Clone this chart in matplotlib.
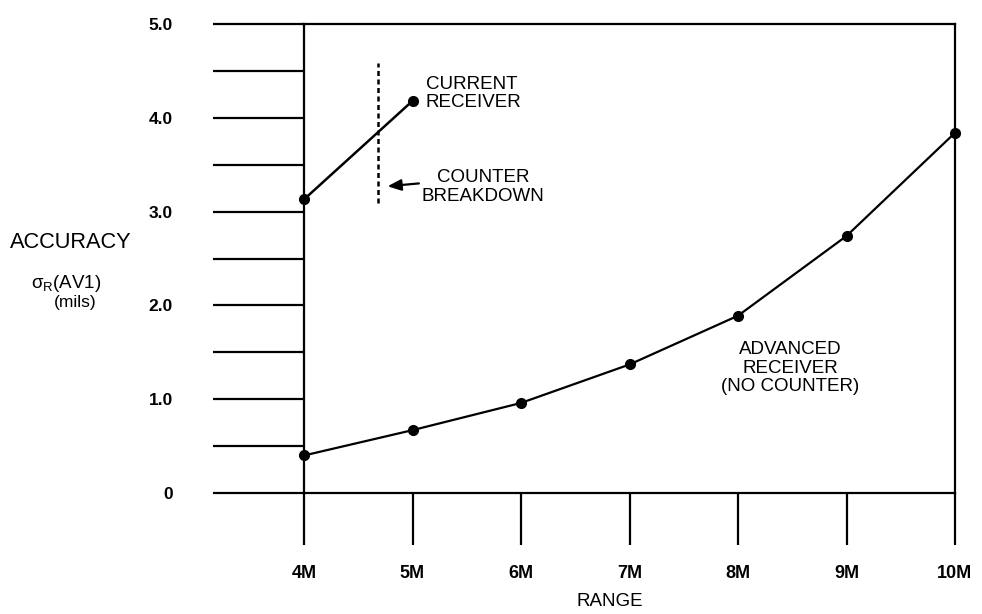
import matplotlib
matplotlib.use("Agg")
import matplotlib.pyplot as plt
from matplotlib.ticker import MultipleLocator

plt.rcParams['font.family'] = ['Liberation Sans', 'DejaVu Sans']
plt.rcParams['mathtext.fontset'] = 'custom'
plt.rcParams['mathtext.rm'] = 'Liberation Sans'
plt.rcParams['mathtext.it'] = 'Liberation Sans:italic'

# Data
range_pos = [4, 5, 6, 7, 8, 9, 10]
range_labels = ['4M', '5M', '6M', '7M', '8M', '9M', '10M']
adv_x = [4, 5, 6, 7, 8, 9, 10]
adv_y = [0.40, 0.67, 0.96, 1.37, 1.89, 2.74, 3.84]
cur_x = [4, 5]
cur_y = [3.13, 4.18]
breakdown_x = 4.68
breakdown_y = [3.09, 4.58]
y_major = [0, 1, 2, 3, 4, 5]
y_labels = ['0', '1.0', '2.0', '3.0', '4.0', '5.0']

W, H = 982, 614
fig = plt.figure(figsize=(W / 100, H / 100), dpi=100)
ax = fig.add_axes([304 / W, (H - 493) / H, 651 / W, 469 / H])
ax.set_xlim(4, 10)
ax.set_ylim(0, 5)

for s in ax.spines.values():
    s.set_linewidth(1.6)

ax.set_xticks(range_pos)
ax.set_xticklabels(range_labels, fontsize=13, fontweight='bold')
ax.set_yticks(y_major)
ax.set_yticklabels(y_labels, fontsize=12.5, fontweight='bold')
ax.yaxis.set_minor_locator(MultipleLocator(0.5))
ax.tick_params(axis='x', direction='out', length=37.5, width=1.6, pad=14)
ax.tick_params(axis='y', which='both', direction='out', length=65.5, width=1.6, pad=29)

ax.plot(adv_x, adv_y, color='black', lw=1.6, marker='o', markersize=7, clip_on=False, zorder=5)
ax.plot(cur_x, cur_y, color='black', lw=1.8, marker='o', markersize=7, clip_on=False, zorder=5)
ax.plot([breakdown_x, breakdown_x], breakdown_y, color='black', lw=1.8, ls=(0, (2, 1.4)))

ax.text(5.12, 4.26, 'CURRENT\nRECEIVER', fontsize=13.5, ha='left', va='center', linespacing=1.12)
ax.annotate('COUNTER\nBREAKDOWN', xy=(4.77, 3.27), xytext=(5.65, 3.26),
            fontsize=13.5, ha='center', va='center', linespacing=1.12,
            arrowprops=dict(arrowstyle='-|>,head_length=0.6,head_width=0.25', color='black', lw=1.6,
                            shrinkA=0, shrinkB=0, relpos=(0.02, 0.62)))
ax.text(8.48, 1.33, 'ADVANCED\nRECEIVER\n(NO COUNTER)', fontsize=13.5, ha='center', va='center', linespacing=1.12)

fig.text(10 / W, 1 - 243 / H, 'ACCURACY', fontsize=15.7, ha='left', va='center')
fig.text(66 / W, 1 - 284 / H, 'σ$_{\\mathrm{R}}$(AV1)', fontsize=13.5, ha='center', va='center')
fig.text(75 / W, 1 - 303 / H, '(mils)', fontsize=12.5, ha='center', va='center')
fig.text(610 / W, 1 - 602 / H, 'RANGE', fontsize=13.5, ha='center', va='center')

fig.savefig('out.png', dpi=100)
